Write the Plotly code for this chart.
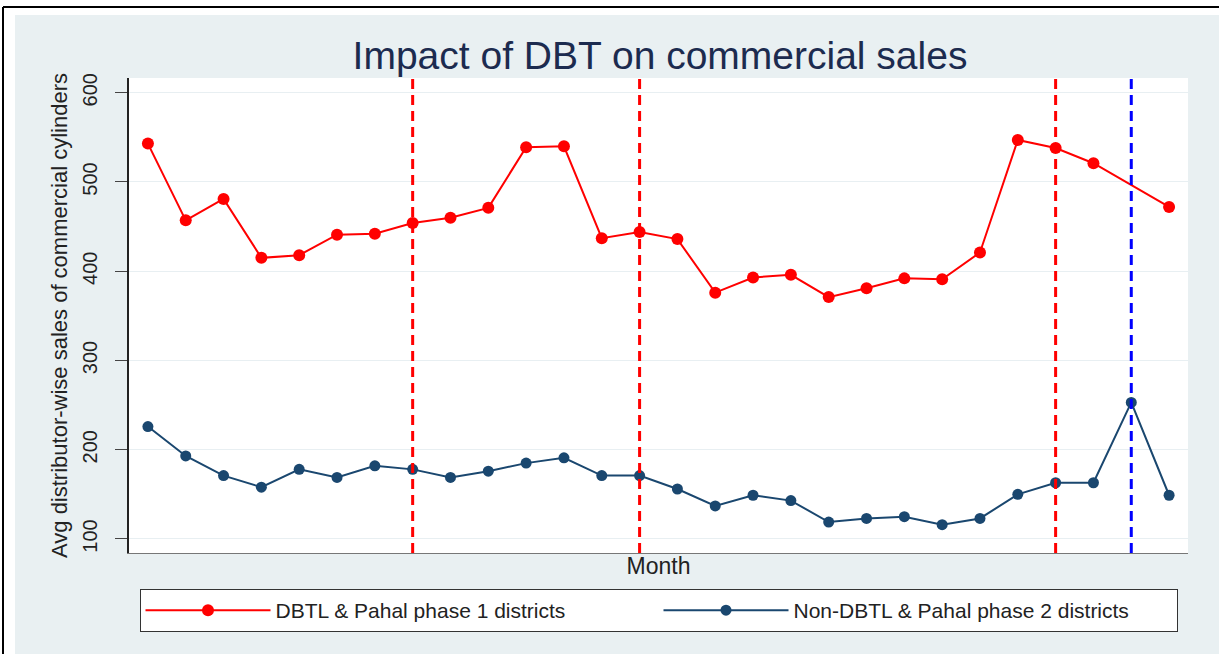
import plotly.graph_objects as go

# ---- data ----
months = list(range(1, 29))
dbtl_phase1 = [543, 457, 481, 415, 418, 441, 442, 454, 460, 471, 539, 540, 437, 444,
               436, 376, 393, 396, 371, 381, 392, 391, 421, 547, 538, 521, None, 472]
non_dbtl_phase2 = [226, 193, 171, 158, 178, 169, 182, 178, 169, 176, 185, 191, 171, 171,
                   156, 137, 149, 143, 119, 123, 125, 116, 123, 150, 163, 163, 253, 149]
red_event_months = [8, 14, 25]
blue_event_months = [27]
y_ticks = [100, 200, 300, 400, 500, 600]

series_names = ["DBTL & Pahal phase 1 districts", "Non-DBTL & Pahal phase 2 districts"]

W, H = 1219, 654
L, R, T, B = 129, 1188, 78, 553

def px_x(p):
    return (p - L) / (R - L)

def px_y(p):
    return (B - p) / (B - T)

FONT = "Liberation Sans, Arial, sans-serif"
RED = "#FF0000"
NAVY = "#1A476F"
BG = "#E9F0F2"

fig = go.Figure()
fig.add_trace(go.Scatter(
    x=months, y=dbtl_phase1, mode="lines+markers", name=series_names[0],
    connectgaps=True,
    line=dict(color=RED, width=2), marker=dict(color=RED, size=12)))
fig.add_trace(go.Scatter(
    x=months, y=non_dbtl_phase2, mode="lines+markers", name=series_names[1],
    line=dict(color=NAVY, width=2), marker=dict(color=NAVY, size=11)))

shapes = []
for m in red_event_months:
    shapes.append(dict(type="line", xref="x", yref="paper", x0=m, x1=m, y0=0, y1=1,
                       line=dict(color=RED, width=3, dash="10px,6px"), layer="above"))
for m in blue_event_months:
    shapes.append(dict(type="line", xref="x", yref="paper", x0=m, x1=m, y0=0, y1=1,
                       line=dict(color="#0000FF", width=3, dash="10px,6px"), layer="above"))

# white margin strips and outer black frame (decoration)
shapes += [
    dict(type="rect", xref="paper", yref="paper", x0=px_x(0), x1=px_x(15), y0=px_y(H), y1=px_y(0),
         fillcolor="white", line=dict(width=0), layer="below"),
    dict(type="rect", xref="paper", yref="paper", x0=px_x(0), x1=px_x(W), y0=px_y(15), y1=px_y(0),
         fillcolor="white", line=dict(width=0), layer="below"),
    dict(type="line", xref="paper", yref="paper", x0=px_x(3), x1=px_x(3), y0=px_y(7), y1=px_y(H),
         line=dict(color="black", width=2), layer="above"),
    dict(type="line", xref="paper", yref="paper", x0=px_x(3), x1=px_x(W), y0=px_y(7), y1=px_y(7),
         line=dict(color="black", width=2), layer="above"),
]

fig.update_layout(
    width=W, height=H,
    margin=dict(l=L, r=W - R, t=T, b=H - B, pad=0),
    paper_bgcolor=BG, plot_bgcolor="white",
    font=dict(family=FONT, color="#222222"),
    title=dict(text="Impact of DBT on commercial sales", x=660 / W,
               xanchor="center", xref="container", y=1 - 55 / H, yanchor="middle",
               yref="container", font=dict(size=39, color="#1C2B4F", family=FONT)),
    showlegend=True,
    legend=dict(orientation="h", x=0.5, xanchor="center", y=px_y(589), yanchor="top",
                bgcolor="white", bordercolor="#333333", borderwidth=1,
                font=dict(size=21, color="#222222", family=FONT),
                entrywidth=378, entrywidthmode="pixels", itemwidth=125),
    shapes=shapes,
)
fig.update_xaxes(range=[0.5, 28.5], showgrid=False, zeroline=False, showticklabels=False,
                 ticks="", showline=True, linecolor="#777777", linewidth=1,
                 title=dict(text="Month", standoff=4, font=dict(size=23, color="#222222")))
fig.update_yaxes(range=[84.3, 616.5], tickvals=y_ticks, tickangle=-90, ticks="outside",
                 ticklen=12, tickcolor="#444444", showgrid=True, gridcolor="#E8EFF2",
                 gridwidth=1, zeroline=False, showline=True, linecolor="#222222", linewidth=1.5,
                 ticklabelstandoff=10,
                 tickfont=dict(size=20, color="#222222"),
                 title=dict(text="Avg distributor-wise sales of commercial cylinders",
                            standoff=6, font=dict(size=22, color="#222222")))

fig.write_html("out.html", config={"displayModeBar": False},
               post_script="document.body.style.margin='0';")
